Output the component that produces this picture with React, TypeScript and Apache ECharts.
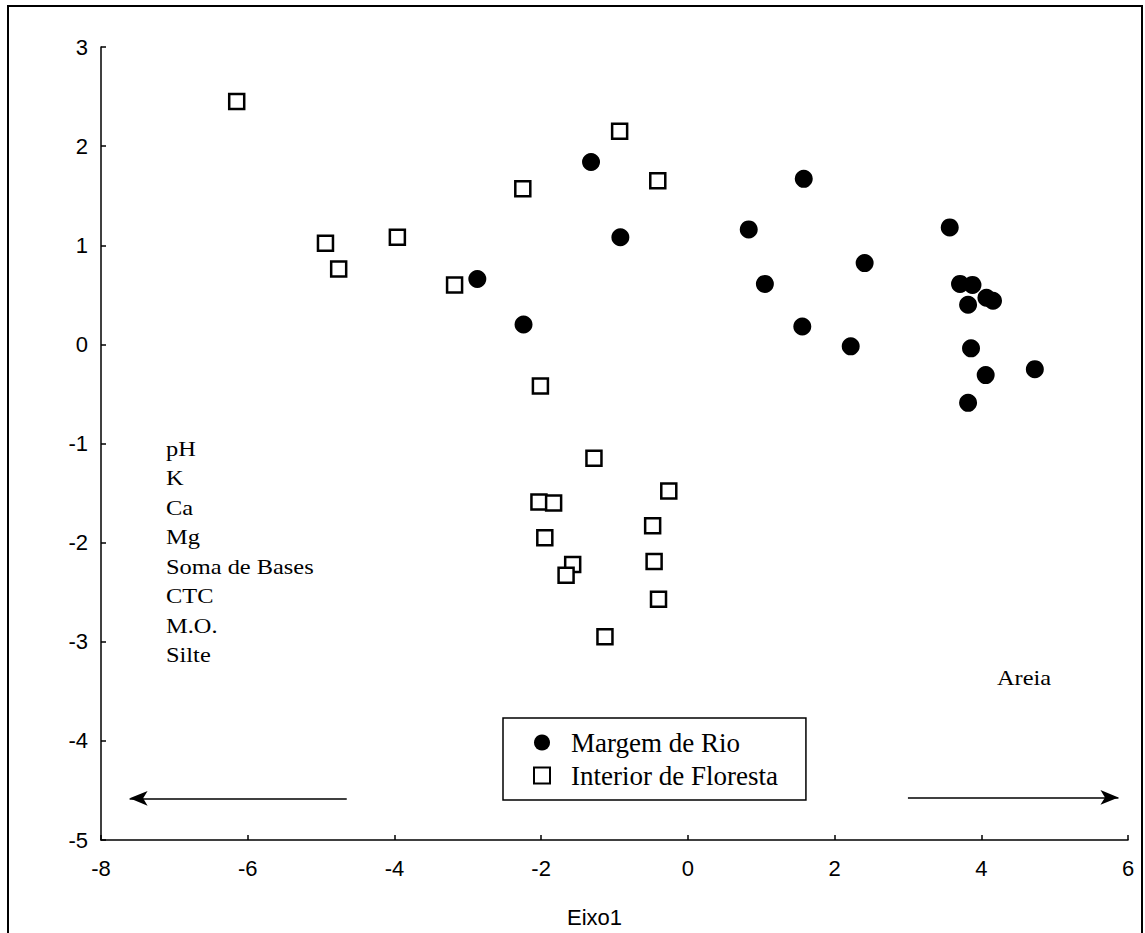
import React, { useEffect, useRef } from "react";
import * as echarts from "echarts";

const margemX = [-1.32, 1.58, 0.83, -0.92, 1.05, -2.87, -2.24, 3.57, 2.41, 3.71, 3.88, 4.07, 4.16, 3.82, 1.56, 2.22, 3.86, 4.06, 4.73, 3.82];
const margemY = [1.84, 1.67, 1.16, 1.08, 0.61, 0.66, 0.2, 1.18, 0.82, 0.61, 0.6, 0.47, 0.44, 0.4, 0.18, -0.02, -0.04, -0.31, -0.25, -0.59];

const interiorX = [-6.15, -0.93, -2.25, -0.41, -4.94, -3.96, -4.76, -3.18, -2.01, -1.28, -0.26, -2.03, -1.83, -0.48, -1.95, -0.46, -1.57, -1.66, -0.4, -1.13];
const interiorY = [2.45, 2.15, 1.57, 1.65, 1.02, 1.08, 0.76, 0.6, -0.42, -1.15, -1.48, -1.59, -1.6, -1.83, -1.95, -2.19, -2.22, -2.33, -2.57, -2.95];

const seriesNames = ["Margem de Rio", "Interior de Floresta"];
const leftVariables = ["pH", "K", "Ca", "Mg", "Soma de Bases", "CTC", "M.O.", "Silte"];
const rightVariables = ["Areia"];
const axisName = "Eixo1";

// arrow endpoints in data units: [fromX, toX, y]
const leftArrow = [-4.65, -7.61, -4.58];
const rightArrow = [3.0, 5.87, -4.57];

export default function App() {
  const ref = useRef<HTMLDivElement>(null);
  useEffect(() => {
    if (!ref.current) return;
    const chart = echarts.init(ref.current, null, { renderer: "svg" });
    const serif = "Liberation Serif";
    const sans = "Liberation Sans";
    const textEls: any[] = leftVariables.map((t, i) => ({
      type: "text",
      x: 166,
      y: 449 + i * 29.5,
      scaleX: 1.22,
      style: { text: t, fontFamily: serif, fontSize: 20, fill: "#000", textAlign: "left", textVerticalAlign: "middle" },
    }));
    rightVariables.forEach((t) => {
      textEls.push({
        type: "text",
        x: 997,
        y: 678,
        scaleX: 1.22,
        style: { text: t, fontFamily: serif, fontSize: 20, fill: "#000", textAlign: "left", textVerticalAlign: "middle" },
      });
    });
    chart.setOption({
      animation: false,
      backgroundColor: "#fff",
      grid: { left: 101, right: 17, top: 47, bottom: 93 },
      xAxis: {
        type: "value",
        min: -8,
        max: 6,
        interval: 2,
        name: axisName,
        nameLocation: "middle",
        nameGap: 66,
        nameTextStyle: { fontFamily: sans, fontSize: 22, color: "#000", padding: [0, 40, 0, 0] },
        axisLine: { onZero: false, lineStyle: { color: "#000", width: 1.5 } },
        axisTick: { inside: true, length: 5, lineStyle: { color: "#000", width: 1.5 } },
        axisLabel: { fontFamily: sans, fontSize: 22, color: "#000", margin: 17 },
        splitLine: { show: false },
      },
      yAxis: {
        type: "value",
        min: -5,
        max: 3,
        interval: 1,
        axisLine: { show: true, onZero: false, lineStyle: { color: "#000", width: 1.5 } },
        axisTick: { show: true, inside: true, length: 5, lineStyle: { color: "#000", width: 1.5 } },
        axisLabel: { fontFamily: sans, fontSize: 22, color: "#000", margin: 13 },
        splitLine: { show: false },
      },
      legend: {
        orient: "vertical",
        left: 503,
        top: 718,
        padding: [11, 28, 11, 30],
        itemGap: 6,
        itemWidth: 16,
        itemHeight: 16,
        borderColor: "#000",
        borderWidth: 1.5,
        backgroundColor: "#fff",
        data: seriesNames,
        textStyle: { fontFamily: serif, fontSize: 27, color: "#000", padding: [0, 0, 0, 16] },
      },
      series: [
        {
          name: seriesNames[0],
          type: "scatter",
          symbol: "circle",
          symbolSize: 18,
          itemStyle: { color: "#000", opacity: 1 },
          data: margemX.map((x, i) => [x, margemY[i]]),
          z: 3,
        },
        {
          name: seriesNames[1],
          type: "scatter",
          symbol: "rect",
          symbolSize: 15,
          itemStyle: { color: "#fff", borderColor: "#000", borderWidth: 2.5, opacity: 1 },
          data: interiorX.map((x, i) => [x, interiorY[i]]),
          z: 2,
          markLine: {
            silent: true,
            symbol: ["none", "arrow"],
            symbolSize: [11, 18],
            label: { show: false },
            lineStyle: { color: "#000", width: 1.5, type: "solid" },
            data: [
              [{ coord: [leftArrow[0], leftArrow[2]] }, { coord: [leftArrow[1], leftArrow[2]] }],
              [{ coord: [rightArrow[0], rightArrow[2]] }, { coord: [rightArrow[1], rightArrow[2]] }],
            ],
          },
        },
      ],
      graphic: [
        {
          type: "rect",
          shape: { x: 8, y: 6, width: 1134, height: 1000 },
          style: { fill: "none", stroke: "#000", lineWidth: 2 },
          silent: true,
        },
        ...textEls,
      ],
    });
    return () => chart.dispose();
  }, []);
  return <div ref={ref} style={{ position: "absolute", left: 0, top: 0, width: 1145, height: 933 }} />;
}
